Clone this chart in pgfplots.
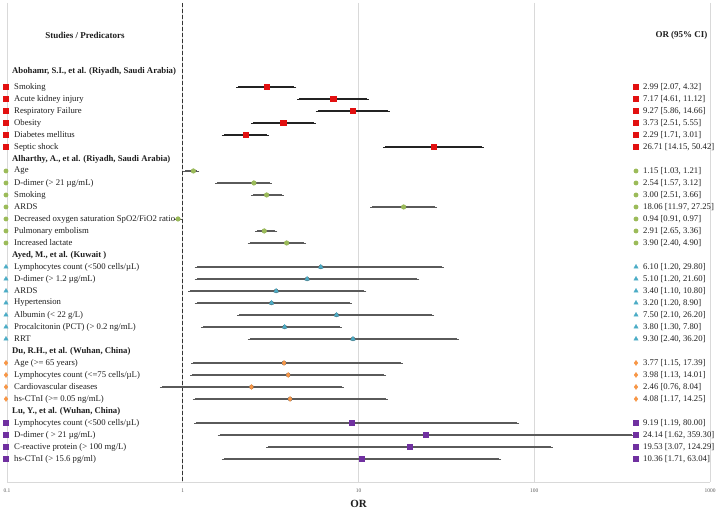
\documentclass[border=0pt]{standalone}
\usepackage{fontspec}
\setmainfont{Liberation Serif}
\usepackage{pgfplots}
\usepackage{pgfplotstable}
\pgfplotsset{compat=1.18}

\definecolor{cA}{RGB}{226,16,16}
\definecolor{cB}{RGB}{155,187,89}
\definecolor{cC}{RGB}{75,172,198}
\definecolor{cD}{RGB}{247,150,70}
\definecolor{cE}{RGB}{112,48,160}
\definecolor{barA}{RGB}{35,35,35}
\definecolor{barB}{RGB}{90,90,90}
\definecolor{gridc}{RGB}{217,217,217}
\definecolor{txt}{RGB}{30,30,30}

% row, OR, lower, upper
\pgfplotstableread{
r or lo hi
0 2.99 2.07 4.32
1 7.17 4.61 11.12
2 9.27 5.86 14.66
3 3.73 2.51 5.55
4 2.29 1.71 3.01
5 26.71 14.15 50.42
}\grpA
\pgfplotstableread{
r or lo hi
7 1.15 1.03 1.21
8 2.54 1.57 3.12
9 3.00 2.51 3.66
10 18.06 11.97 27.25
11 0.94 0.91 0.97
12 2.91 2.65 3.36
13 3.90 2.40 4.90
}\grpB
\pgfplotstableread{
r or lo hi
15 6.10 1.20 29.80
16 5.10 1.20 21.60
17 3.40 1.10 10.80
18 3.20 1.20 8.90
19 7.50 2.10 26.20
20 3.80 1.30 7.80
21 9.30 2.40 36.20
}\grpC
\pgfplotstableread{
r or lo hi
23 3.77 1.15 17.39
24 3.98 1.13 14.01
25 2.46 0.76 8.04
26 4.08 1.17 14.25
}\grpD
\pgfplotstableread{
r or lo hi
28 9.19 1.19 80.00
29 24.14 1.62 359.30
30 19.53 3.07 124.29
31 10.36 1.71 63.04
}\grpE

\newcommand{\lbl}{\fontsize{8.7}{9}\selectfont}
\newcommand{\lab}[2]{\node[anchor=west,inner sep=0pt,font=\lbl,text=txt,xshift=7pt] at (axis cs:0.1,#1) {#2};}
\newcommand{\head}[2]{\node[anchor=west,inner sep=0pt,font=\lbl\bfseries,text=txt,xshift=5pt] at (axis cs:0.1,#1) {#2};}
\newcommand{\ci}[2]{\node[anchor=west,inner sep=0pt,font=\lbl,text=txt,xshift=636pt] at (axis cs:0.1,#1) {#2};}

\begin{document}
\begin{tikzpicture}
\useasboundingbox (-7pt,-28pt) rectangle (713pt,482pt);
\begin{axis}[
  at={(0pt,0pt)}, anchor=south west,
  scale only axis,
  width=703pt, height=479pt,
  xmode=log, xmin=0.1, xmax=1000,
  ymin=-7, ymax=32.92, y dir=reverse,
  axis x line*=bottom, axis y line=none,
  x axis line style={draw=gridc, line width=0.8pt, -},
  xtick={0.1,1,10,100,1000},
  xticklabels={0.1,1,10,100,1000},
  xminorticks=false,
  major tick length=0pt, minor tick length=0pt,
  xmajorgrids, major grid style={draw=gridc, line width=0.8pt},
  /pgf/number format/assume math mode=true,
  xticklabel style={font=\fontsize{5.5}{6}\selectfont, text=gray!70!black, yshift=-3pt},
  xlabel={OR},
  xlabel style={font=\fontsize{11}{12}\selectfont\bfseries, text=txt, yshift=-1pt},
  clip=false,
  error bars/error bar style={line width=1.3pt},
  error bars/error mark options={line width=0.9pt, mark size=2pt},
]
% reference line at OR = 1
\addplot[black!80, line width=1.4pt, dash pattern=on 4pt off 2pt] coordinates {(1,-7) (1,32.92)};

% confidence intervals
\addplot[barA, only marks, mark=none, error bars/.cd, x dir=both, x explicit, error bar style={barA}, error mark options={barA}]
  table[x=or, y=r, x error plus expr=\thisrow{hi}-\thisrow{or}, x error minus expr=\thisrow{or}-\thisrow{lo}] {\grpA};
\addplot[barB, only marks, mark=none, error bars/.cd, x dir=both, x explicit, error bar style={barB}, error mark options={barB}]
  table[x=or, y=r, x error plus expr=\thisrow{hi}-\thisrow{or}, x error minus expr=\thisrow{or}-\thisrow{lo}] {\grpB};
\addplot[barB, only marks, mark=none, error bars/.cd, x dir=both, x explicit, error bar style={barB}, error mark options={barB}]
  table[x=or, y=r, x error plus expr=\thisrow{hi}-\thisrow{or}, x error minus expr=\thisrow{or}-\thisrow{lo}] {\grpC};
\addplot[barB, only marks, mark=none, error bars/.cd, x dir=both, x explicit, error bar style={barB}, error mark options={barB}]
  table[x=or, y=r, x error plus expr=\thisrow{hi}-\thisrow{or}, x error minus expr=\thisrow{or}-\thisrow{lo}] {\grpD};
\addplot[barB, only marks, mark=none, error bars/.cd, x dir=both, x explicit, error bar style={barB}, error mark options={barB}]
  table[x=or, y=r, x error plus expr=\thisrow{hi}-\thisrow{or}, x error minus expr=\thisrow{or}-\thisrow{lo}] {\grpE};

% point estimates
\addplot[cA, only marks, mark=square*, mark size=2.6pt, mark options={draw=cA, fill=cA}] table[x=or, y=r] {\grpA};
\addplot[cB, only marks, mark=*, mark size=2.3pt, mark options={draw=cB, fill=cB}] table[x=or, y=r] {\grpB};
\addplot[cC, only marks, mark=triangle*, mark size=2.6pt, mark options={draw=cC, fill=cC}] table[x=or, y=r] {\grpC};
\addplot[cD, only marks, mark=diamond*, mark size=2.5pt, mark options={draw=cD, fill=cD}] table[x=or, y=r] {\grpD};
\addplot[cE, only marks, mark=square*, mark size=2.5pt, mark options={draw=cE, fill=cE}] table[x=or, y=r] {\grpE};

% key marks in the left and right columns
\addplot[cA, only marks, mark=square*, mark size=2.5pt, mark options={draw=cA, fill=cA}] table[x expr=0.0987, y=r] {\grpA};
\addplot[cB, only marks, mark=*, mark size=2.2pt, mark options={draw=cB, fill=cB}] table[x expr=0.0987, y=r] {\grpB};
\addplot[cC, only marks, mark=triangle*, mark size=2.5pt, mark options={draw=cC, fill=cC}] table[x expr=0.0987, y=r] {\grpC};
\addplot[cD, only marks, mark=diamond*, mark size=2.5pt, mark options={draw=cD, fill=cD}] table[x expr=0.0987, y=r] {\grpD};
\addplot[cE, only marks, mark=square*, mark size=2.5pt, mark options={draw=cE, fill=cE}] table[x expr=0.0987, y=r] {\grpE};
\addplot[cA, only marks, mark=square*, mark size=2.5pt, mark options={draw=cA, fill=cA}] table[x expr=379.3, y=r] {\grpA};
\addplot[cB, only marks, mark=*, mark size=2.2pt, mark options={draw=cB, fill=cB}] table[x expr=379.3, y=r] {\grpB};
\addplot[cC, only marks, mark=triangle*, mark size=2.5pt, mark options={draw=cC, fill=cC}] table[x expr=379.3, y=r] {\grpC};
\addplot[cD, only marks, mark=diamond*, mark size=2.5pt, mark options={draw=cD, fill=cD}] table[x expr=379.3, y=r] {\grpD};
\addplot[cE, only marks, mark=square*, mark size=2.5pt, mark options={draw=cE, fill=cE}] table[x expr=379.3, y=r] {\grpE};

% column headers
\node[font=\fontsize{9}{10}\selectfont\bfseries, text=txt, xshift=78pt] at (axis cs:0.1,-4.28) {Studies / Predicators};
\node[font=\fontsize{9}{10}\selectfont\bfseries, text=txt, xshift=674.5pt] at (axis cs:0.1,-4.28) {OR (95\% CI)};

% study names and predictors
\head{-1.33}{Abohamr, S.I., et al. (Riyadh, Saudi Arabia)}
\lab{0}{Smoking}
\lab{1}{Acute kidney injury}
\lab{2}{Respiratory Failure}
\lab{3}{Obesity}
\lab{4}{Diabetes mellitus}
\lab{5}{Septic shock}
\head{6}{Alharthy, A., et al. (Riyadh, Saudi Arabia)}
\lab{7}{Age}
\lab{8}{D-dimer (> 21 µg/mL)}
\lab{9}{Smoking}
\lab{10}{ARDS}
\lab{11}{Decreased oxygen saturation SpO2/FiO2 ratio}
\lab{12}{Pulmonary embolism}
\lab{13}{Increased lactate}
\head{14}{Ayed, M., et al. (Kuwait )}
\lab{15}{Lymphocytes count (<500 cells/µL)}
\lab{16}{D-dimer (> 1.2 µg/mL)}
\lab{17}{ARDS}
\lab{18}{Hypertension}
\lab{19}{Albumin (< 22 g/L)}
\lab{20}{Procalcitonin (PCT) (> 0.2 ng/mL)}
\lab{21}{RRT}
\head{22}{Du, R.H., et al. (Wuhan, China)}
\lab{23}{Age (>= 65 years)}
\lab{24}{Lymphocytes count (<=75 cells/µL)}
\lab{25}{Cardiovascular diseases}
\lab{26}{hs-CTnI (>= 0.05 ng/mL)}
\head{27}{Lu, Y., et al. (Wuhan, China)}
\lab{28}{Lymphocytes count (<500 cells/µL)}
\lab{29}{D-dimer ( > 21 µg/mL)}
\lab{30}{C-reactive protein (> 100 mg/L)}
\lab{31}{hs-CTnI (> 15.6 pg/ml)}

% odds ratios with 95% CI
\ci{0}{2.99 [2.07, 4.32]}
\ci{1}{7.17 [4.61, 11.12]}
\ci{2}{9.27 [5.86, 14.66]}
\ci{3}{3.73 [2.51, 5.55]}
\ci{4}{2.29 [1.71, 3.01]}
\ci{5}{26.71 [14.15, 50.42]}
\ci{7}{1.15 [1.03, 1.21]}
\ci{8}{2.54 [1.57, 3.12]}
\ci{9}{3.00 [2.51, 3.66]}
\ci{10}{18.06 [11.97, 27.25]}
\ci{11}{0.94 [0.91, 0.97]}
\ci{12}{2.91 [2.65, 3.36]}
\ci{13}{3.90 [2.40, 4.90]}
\ci{15}{6.10 [1.20, 29.80]}
\ci{16}{5.10 [1.20, 21.60]}
\ci{17}{3.40 [1.10, 10.80]}
\ci{18}{3.20 [1.20, 8.90]}
\ci{19}{7.50 [2.10, 26.20]}
\ci{20}{3.80 [1.30, 7.80]}
\ci{21}{9.30 [2.40, 36.20]}
\ci{23}{3.77 [1.15, 17.39]}
\ci{24}{3.98 [1.13, 14.01]}
\ci{25}{2.46 [0.76, 8.04]}
\ci{26}{4.08 [1.17, 14.25]}
\ci{28}{9.19 [1.19, 80.00]}
\ci{29}{24.14 [1.62, 359.30]}
\ci{30}{19.53 [3.07, 124.29]}
\ci{31}{10.36 [1.71, 63.04]}
\end{axis}
\end{tikzpicture}
\end{document}
